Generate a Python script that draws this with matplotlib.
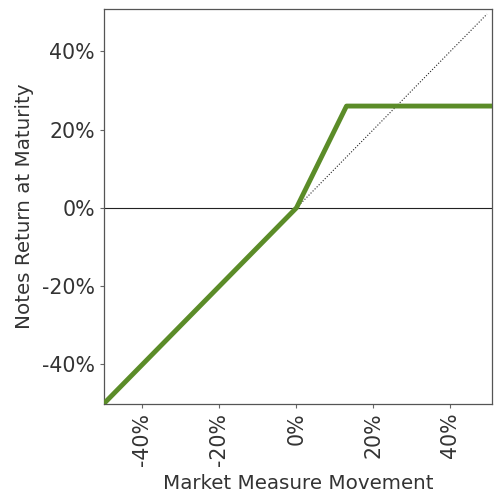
import matplotlib
matplotlib.use("Agg")
import matplotlib.pyplot as plt
from matplotlib.ticker import FuncFormatter

# Data (percent)
market_x = [-50, 0, 13, 50.8]
notes_y = [-50, 0, 26, 26]
ref_x = [0, 49.5]
ref_y = [0, 49.5]
ticks = [-40, -20, 0, 20, 40]

fig = plt.figure(figsize=(5, 5), dpi=100)
ax = fig.add_axes([0.208, 0.193, 0.776, 0.789])

ax.axhline(0, color="#222222", lw=0.8, zorder=1)
ax.plot(ref_x, ref_y, color="#222222", lw=0.8, ls=(0, (1, 1.6)), zorder=2)
ax.plot(market_x, notes_y, color="#5b8c28", lw=3.5, solid_capstyle="butt", zorder=3)

ax.set_xlim(-50, 50.8)
ax.set_ylim(-50, 50.8)
ax.set_xticks(ticks)
ax.set_yticks(ticks)
fmt = FuncFormatter(lambda v, p: f"{v:.0f}%")
ax.xaxis.set_major_formatter(fmt)
ax.yaxis.set_major_formatter(fmt)
ax.tick_params(axis="x", rotation=90)
ax.tick_params(labelsize=14.8, labelcolor="#333333", color="#666666", length=3, width=0.8)
for s in ax.spines.values():
    s.set_color("#555555")
    s.set_linewidth(0.9)

ax.set_xlabel("Market Measure Movement", fontsize=14.3, color="#333333", labelpad=6)
ax.set_ylabel("Notes Return at Maturity", fontsize=14.3, color="#333333", labelpad=6)

fig.savefig("out.png", dpi=100)
